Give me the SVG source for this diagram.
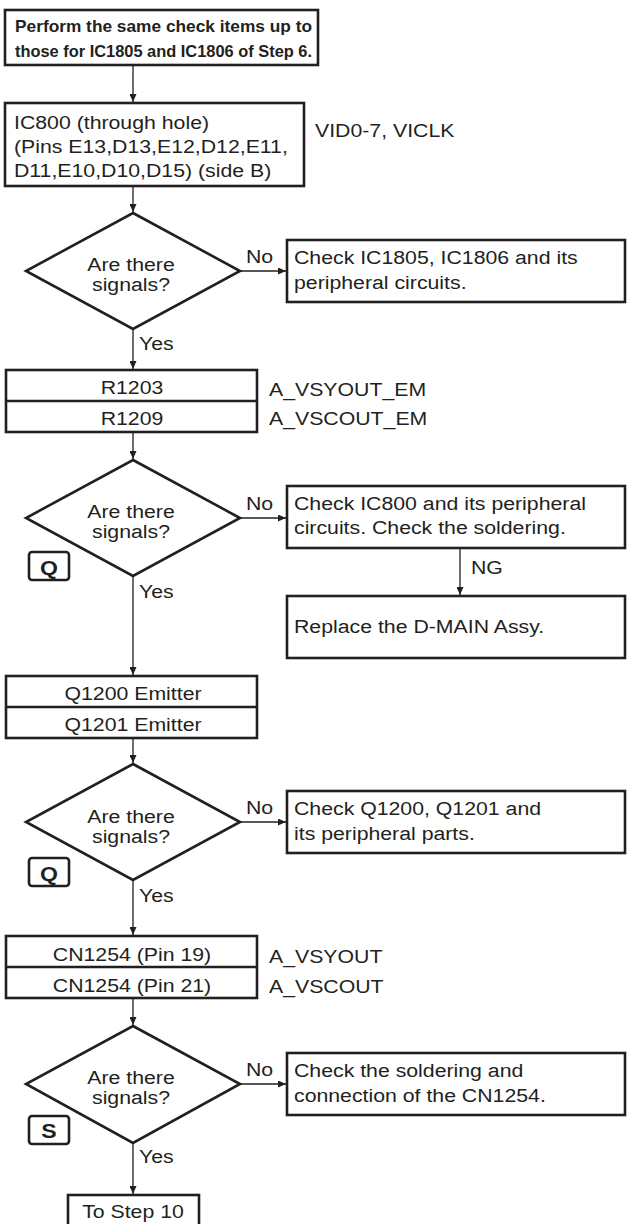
<svg xmlns="http://www.w3.org/2000/svg" width="627" height="1224" viewBox="0 0 627 1224">
<style>
  text { font-family: "Liberation Sans", Arial, sans-serif; font-size: 19px; fill: #231f20; }
  .c { text-anchor: middle; }
  .b { font-weight: bold; }
  .ttl { font-weight: bold; font-size: 16.5px; }
  .badge { font-weight: bold; font-size: 21px; text-anchor: middle; }
  .box { fill: #fff; stroke: #231f20; stroke-width: 2.6; }
  .dia { fill: #fff; stroke: #231f20; stroke-width: 2.6; stroke-linejoin: miter; }
  .bd { fill: #fff; stroke: #231f20; stroke-width: 2.6; }
  .ln { stroke: #231f20; stroke-width: 1.3; fill: none; marker-end: url(#ah); }
  .dv { stroke: #231f20; stroke-width: 2.6; }
</style>
<defs>
  <marker id="ah" markerUnits="userSpaceOnUse" markerWidth="8" markerHeight="7" refX="8" refY="3.5" orient="auto">
    <path d="M0,0 L8,3.5 L0,7 z" fill="#231f20"/>
  </marker>
</defs>

<g id="connectors">
  <line class="ln" x1="133" y1="65" x2="133" y2="102"/>
  <line class="ln" x1="133" y1="186" x2="133" y2="212"/>
  <line class="ln" x1="240" y1="271" x2="286" y2="271"/>
  <line class="ln" x1="133" y1="329" x2="133" y2="369"/>
  <line class="ln" x1="133" y1="432" x2="133" y2="459"/>
  <line class="ln" x1="240" y1="518" x2="286" y2="518"/>
  <line class="ln" x1="460" y1="548" x2="460" y2="595"/>
  <line class="ln" x1="133" y1="576" x2="133" y2="675"/>
  <line class="ln" x1="133" y1="738" x2="133" y2="763"/>
  <line class="ln" x1="240" y1="822" x2="286" y2="822"/>
  <line class="ln" x1="133" y1="880" x2="133" y2="935"/>
  <line class="ln" x1="133" y1="998" x2="133" y2="1025"/>
  <line class="ln" x1="240" y1="1084" x2="286" y2="1084"/>
  <line class="ln" x1="133" y1="1143" x2="133" y2="1194"/>
  <text transform="translate(246 263) scale(1.12 1)">No</text>
  <text transform="translate(139 350) scale(1.12 1)">Yes</text>
  <text transform="translate(246 510) scale(1.12 1)">No</text>
  <text transform="translate(471 574) scale(1.12 1)">NG</text>
  <text transform="translate(139 598) scale(1.12 1)">Yes</text>
  <text transform="translate(246 814) scale(1.12 1)">No</text>
  <text transform="translate(139 902) scale(1.12 1)">Yes</text>
  <text transform="translate(246 1076) scale(1.12 1)">No</text>
  <text transform="translate(139 1163) scale(1.12 1)">Yes</text>
</g>

<g id="start">
  <rect class="box" x="5" y="10" width="313" height="55"/>
  <text class="ttl" x="15" y="32" textLength="297" lengthAdjust="spacingAndGlyphs">Perform the same check items up to</text>
  <text class="ttl" x="15" y="57" textLength="297" lengthAdjust="spacingAndGlyphs">those for IC1805 and IC1806 of Step 6.</text>
</g>

<g id="ic800">
  <rect class="box" x="5" y="103" width="299" height="83"/>
  <text transform="translate(14 129) scale(1.12 1)">IC800 (through hole)</text>
  <text transform="translate(14 153) scale(1.12 1)">(Pins E13,D13,E12,D12,E11,</text>
  <text transform="translate(14 177) scale(1.12 1)">D11,E10,D10,D15) (side B)</text>
  <text transform="translate(315 137) scale(1.12 1)">VID0-7, VICLK</text>
</g>

<g id="decision1">
  <polygon class="dia" points="133,213 240,271 133,329 26,271"/>
  <text class="c" transform="translate(131 271) scale(1.12 1)">Are there</text>
  <text class="c" transform="translate(131 291) scale(1.12 1)">signals?</text>
</g>

<g id="check1">
  <rect class="box" x="287" y="240" width="338" height="62"/>
  <text transform="translate(294 264) scale(1.12 1)">Check IC1805, IC1806 and its</text>
  <text transform="translate(294 289) scale(1.12 1)">peripheral circuits.</text>
</g>

<g id="r1203">
  <rect class="box" x="6" y="370" width="251" height="62"/>
  <line class="dv" x1="6" y1="401" x2="257" y2="401"/>
  <text class="c" transform="translate(132 394) scale(1.12 1)">R1203</text>
  <text class="c" transform="translate(132 425) scale(1.12 1)">R1209</text>
  <text transform="translate(269 396) scale(1.12 1)">A_VSYOUT_EM</text>
  <text transform="translate(269 425) scale(1.12 1)">A_VSCOUT_EM</text>
</g>

<g id="decision2">
  <polygon class="dia" points="133,460 240,518 133,576 26,518"/>
  <text class="c" transform="translate(131 518) scale(1.12 1)">Are there</text>
  <text class="c" transform="translate(131 538) scale(1.12 1)">signals?</text>
  <rect class="bd" x="29" y="552" width="40" height="28" rx="3"/>
  <text class="badge" transform="translate(49 575) scale(1.1 1)">Q</text>
</g>

<g id="check2">
  <rect class="box" x="287" y="486" width="338" height="62"/>
  <text transform="translate(294 510) scale(1.12 1)">Check IC800 and its peripheral</text>
  <text transform="translate(294 534) scale(1.12 1)">circuits. Check the soldering.</text>
</g>

<g id="replace">
  <rect class="box" x="287" y="596" width="338" height="62"/>
  <text transform="translate(294 633) scale(1.12 1)">Replace the D-MAIN Assy.</text>
</g>

<g id="q1200">
  <rect class="box" x="6" y="676" width="251" height="62"/>
  <line class="dv" x1="6" y1="707" x2="257" y2="707"/>
  <text class="c" transform="translate(133 700) scale(1.12 1)">Q1200 Emitter</text>
  <text class="c" transform="translate(133 731) scale(1.12 1)">Q1201 Emitter</text>
</g>

<g id="decision3">
  <polygon class="dia" points="133,764 240,822 133,880 26,822"/>
  <text class="c" transform="translate(131 823) scale(1.12 1)">Are there</text>
  <text class="c" transform="translate(131 843) scale(1.12 1)">signals?</text>
  <rect class="bd" x="29" y="858" width="40" height="28" rx="3"/>
  <text class="badge" transform="translate(49 881) scale(1.1 1)">Q</text>
</g>

<g id="check3">
  <rect class="box" x="287" y="791" width="338" height="62"/>
  <text transform="translate(294 815) scale(1.12 1)">Check Q1200, Q1201 and</text>
  <text transform="translate(294 840) scale(1.12 1)">its peripheral parts.</text>
</g>

<g id="cn1254">
  <rect class="box" x="6" y="936" width="251" height="62"/>
  <line class="dv" x1="6" y1="967" x2="257" y2="967"/>
  <text class="c" transform="translate(132 961) scale(1.12 1)">CN1254 (Pin 19)</text>
  <text class="c" transform="translate(132 992) scale(1.12 1)">CN1254 (Pin 21)</text>
  <text transform="translate(269 963) scale(1.12 1)">A_VSYOUT</text>
  <text transform="translate(269 993) scale(1.12 1)">A_VSCOUT</text>
</g>

<g id="decision4">
  <polygon class="dia" points="133,1026 240,1084 133,1143 26,1084"/>
  <text class="c" transform="translate(131 1084) scale(1.12 1)">Are there</text>
  <text class="c" transform="translate(131 1104) scale(1.12 1)">signals?</text>
  <rect class="bd" x="29" y="1116" width="40" height="28" rx="3"/>
  <text class="badge" transform="translate(49 1138) scale(1.1 1)">S</text>
</g>

<g id="check4">
  <rect class="box" x="287" y="1053" width="338" height="62"/>
  <text transform="translate(294 1077) scale(1.12 1)">Check the soldering and</text>
  <text transform="translate(294 1102) scale(1.12 1)">connection of the CN1254.</text>
</g>

<g id="step10">
  <rect class="box" x="68" y="1195" width="131" height="32"/>
  <text class="c" transform="translate(133 1218) scale(1.12 1)">To Step 10</text>
</g>
</svg>
